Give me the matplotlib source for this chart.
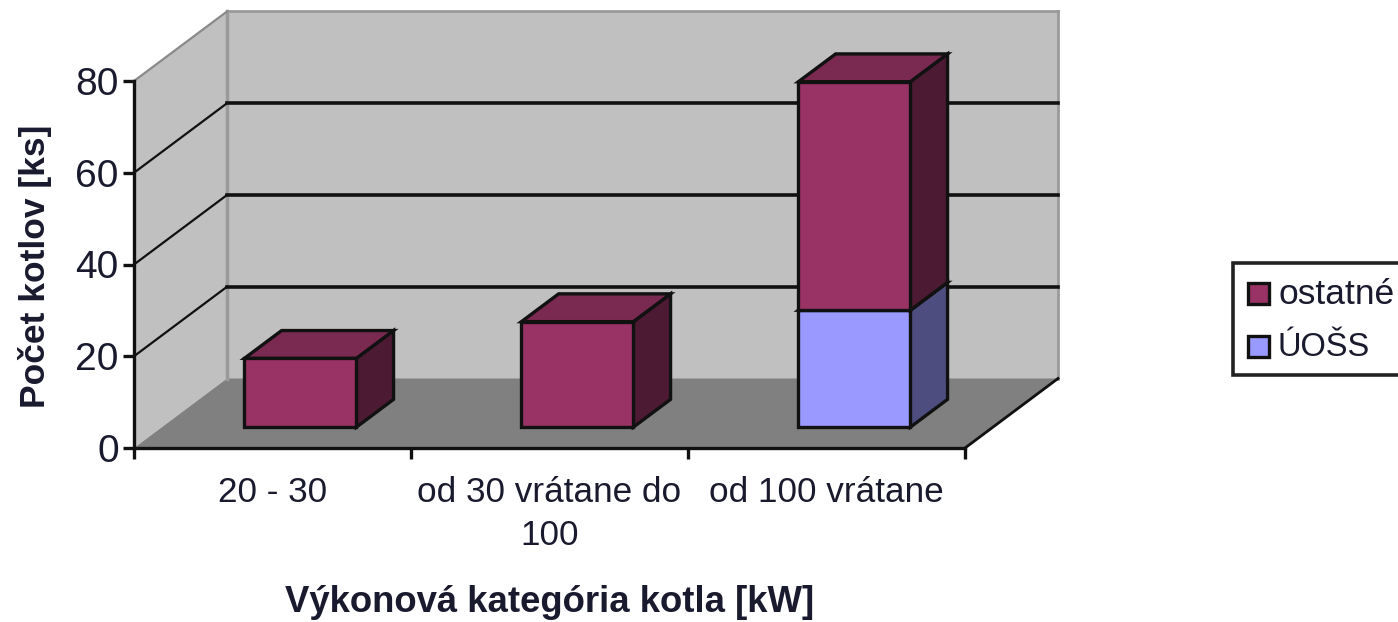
import numpy as np
import matplotlib
matplotlib.use('Agg')
import matplotlib.pyplot as plt
from matplotlib.patches import Rectangle

plt.rcParams['font.family'] = ['Liberation Sans', 'DejaVu Sans']

categories = ['20 - 30', 'od 30 vrátane do\n100', 'od 100 vrátane']
uoss = [0, 0, 25.5]
ostatne = [15, 23, 49.8]
y_ticks = [0, 20, 40, 60, 80]
x_label = 'Výkonová kategória kotla [kW]'
y_label = 'Počet kotlov [ks]'
legend_labels = ['ostatné', 'ÚOŠS']

W, H = 1398, 622
INK = '#111111'
PURPLE = '#993366'
PURPLE_TOP = '#7a2950'
PURPLE_SIDE = '#4d1a33'
BLUE = '#9999ff'
BLUE_SIDE = '#4d4d80'
WALL = '#c0c0c0'
FLOOR = '#808080'
TEXT = '#1a1a2e'

# depth of the 3d box in data units
DX = 93 / 277
DY = 69.5 / 4.5875
BAR_W = 0.404
D0, D1 = 0.30, 0.70


def proj(x, y, d):
    return x + d * DX, y + d * DY


def face(ax, pts, color, z=3, ec=INK, lw=2.4):
    xs = [p[0] for p in pts]
    ys = [p[1] for p in pts]
    ax.fill(xs, ys, facecolor=color, edgecolor=ec, linewidth=lw,
            clip_on=False, zorder=z, joinstyle='miter')


def box(ax, cx, y0, y1, front, top, side, z):
    x0, x1 = cx - BAR_W / 2, cx + BAR_W / 2
    face(ax, [proj(x1, y0, D0), proj(x1, y0, D1), proj(x1, y1, D1), proj(x1, y1, D0)], side, z)
    face(ax, [proj(x0, y1, D0), proj(x1, y1, D0), proj(x1, y1, D1), proj(x0, y1, D1)], top, z)
    face(ax, [proj(x0, y0, D0), proj(x1, y0, D0), proj(x1, y1, D0), proj(x0, y1, D0)], front, z)


fig = plt.figure(figsize=(W / 100, H / 100), dpi=100)
ax = fig.add_axes([134 / W, 1 - 448 / H, 831 / W, 367 / H])
ax.set_xlim(0, 3)
ax.set_ylim(0, 80)
ax.patch.set_visible(False)
for s in ['top', 'right']:
    ax.spines[s].set_visible(False)
for s in ['left', 'bottom']:
    ax.spines[s].set_linewidth(2.4)
    ax.spines[s].set_color(INK)
    ax.spines[s].set_zorder(6)

# walls and floor
top = y_ticks[-1]
face(ax, [proj(0, 0, 0), proj(0, top, 0), proj(0, top, 1), proj(0, 0, 1)], WALL, 1, 'none', 0)
face(ax, [proj(0, 0, 1), proj(3, 0, 1), proj(3, top, 1), proj(0, top, 1)], WALL, 1, 'none', 0)
face(ax, [proj(0, 0, 0), proj(3, 0, 0), proj(3, 0, 1), proj(0, 0, 1)], FLOOR, 1, 'none', 0)
ax.plot(*zip(proj(0, 0, 1), proj(0, top, 1)), color='#9a9a9a', lw=2.5, clip_on=False, zorder=1.5)
ax.plot(*zip(proj(3, 0, 1), proj(3, top, 1)), color='#9a9a9a', lw=2, clip_on=False, zorder=1.5)
ax.plot(*zip(proj(0, top, 1), proj(3, top, 1)), color='#9a9a9a', lw=2, clip_on=False, zorder=1.5)

# gridlines on back and side wall
for v in y_ticks[1:]:
    if v != top:
        ax.plot(*zip(proj(0, v, 1), proj(3, v, 1)), color=INK, lw=2.6, clip_on=False, zorder=2)
        ax.plot(*zip(proj(0, v, 0), proj(0, v, 1)), color=INK, lw=1.6, clip_on=False, zorder=2)
    else:
        ax.plot(*zip(proj(0, v, 0), proj(0, v, 1)), color='#8a8a8a', lw=1.6, clip_on=False, zorder=2)
ax.plot(*zip(proj(3, 0, 0), proj(3, 0, 1)), color=INK, lw=2, clip_on=False, zorder=2)

# bars, left to right
for i in range(len(categories)):
    cx = i + 0.5
    if uoss[i] > 0:
        box(ax, cx, 0, uoss[i], BLUE, BLUE, BLUE_SIDE, 3 + i)
    box(ax, cx, uoss[i], uoss[i] + ostatne[i], PURPLE, PURPLE_TOP, PURPLE_SIDE, 3 + i)

ax.set_yticks(y_ticks)
ax.set_xticks(range(len(categories) + 1))
ax.set_xticklabels([])
ax.tick_params(axis='both', length=8, width=2.4, color=INK, direction='out')
ax.tick_params(axis='y', labelsize=28, labelcolor=TEXT, pad=3)

for i, c in enumerate(categories):
    ax.annotate(c, (i + 0.5, 0), xytext=(0, -28), textcoords='offset pixels', ha='center', va='top',
                fontsize=25.3, color=TEXT, linespacing=1.4, annotation_clip=False)

fig.text(550 / W, 1 - 602 / H, x_label, ha='center', va='center', fontsize=26.3,
         fontweight='bold', color=TEXT)
fig.text(35 / W, 1 - 266 / H, y_label, ha='center', va='center', rotation=90, fontsize=25.5,
         fontweight='bold', color=TEXT)

# legend box runs off the right edge
fig.add_artist(Rectangle((1233 / W, 1 - 375 / H), 175 / W, 112 / H, transform=fig.transFigure,
                         facecolor='white', edgecolor='#222222', linewidth=2.6))
legend_colors = [PURPLE, BLUE]
for lab, col, ypx, fs in zip(legend_labels, legend_colors, [295, 348], [25.5, 23.5]):
    fig.add_artist(Rectangle((1248 / W, 1 - (ypx + 9) / H), 21 / W, 21 / H, transform=fig.transFigure,
                             facecolor=col, edgecolor=INK, linewidth=2.4))
    fig.text(1278 / W, 1 - ypx / H, lab, ha='left', va='center', fontsize=fs, color=TEXT)

fig.savefig('out.png', dpi=100)
